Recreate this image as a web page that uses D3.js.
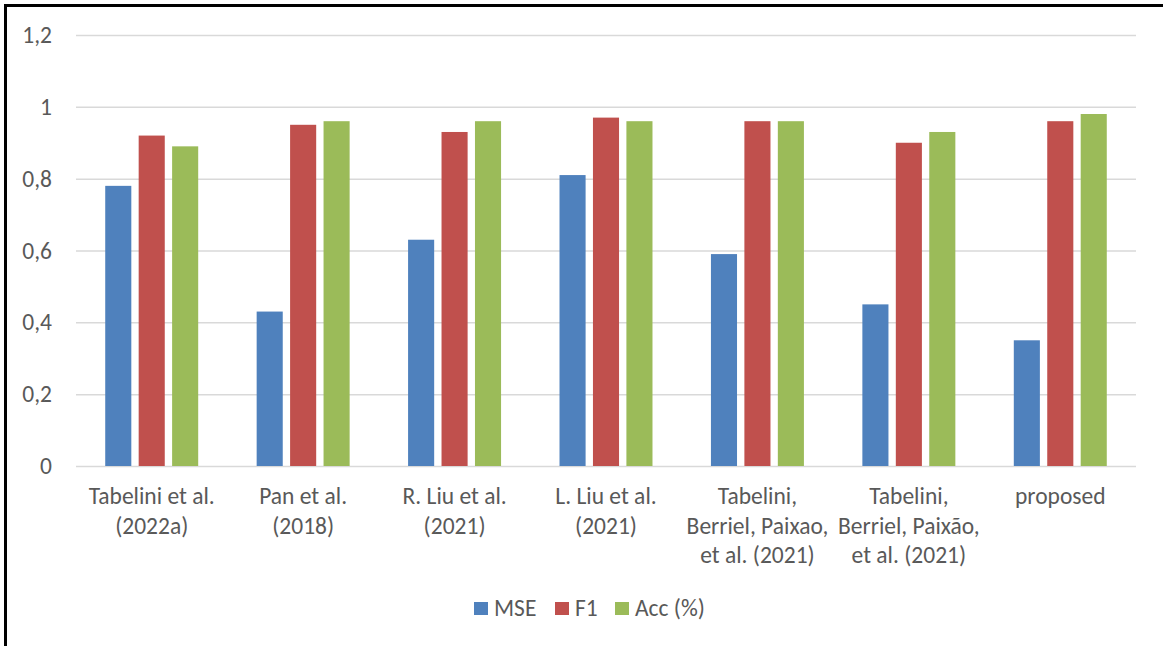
<!DOCTYPE html>
<html><head><meta charset="utf-8">
<script src="https://cdn.jsdelivr.net/npm/d3@7"></script>
<style>body{margin:0;background:#fff}svg{display:block}</style>
</head><body>
<script>
const categories = ["Tabelini et al.\n(2022a)", "Pan et al.\n(2018)", "R. Liu et al.\n(2021)", "L. Liu et al.\n(2021)", "Tabelini,\nBerriel, Paixao,\net al. (2021)", "Tabelini,\nBerriel, Paixão,\net al. (2021)", "proposed"];
const seriesNames = ["MSE", "F1", "Acc (%)"];
const mse = [0.78, 0.43, 0.63, 0.81, 0.59, 0.45, 0.35];
const f1 = [0.92, 0.95, 0.93, 0.97, 0.96, 0.90, 0.96];
const acc = [0.89, 0.96, 0.96, 0.96, 0.96, 0.93, 0.98];
const yTicks = [0, 0.2, 0.4, 0.6, 0.8, 1, 1.2];
const colors = ["#4F81BD", "#C0504D", "#9BBB59"];

(function () {
const W = 1163, H = 646;
const font = "Carlito, Calibri, Lato, sans-serif";
const fs = "23.5px";
const textColor = "#595959";
const svg = d3.select("body").append("svg").attr("width", W).attr("height", H);
svg.append("rect").attr("width", W).attr("height", H).attr("fill", "#fff");
svg.append("line").attr("x1", 5.5).attr("x2", 5.5).attr("y1", 4).attr("y2", H).attr("stroke", "#000").attr("stroke-width", 3);
svg.append("line").attr("x1", 4).attr("x2", W).attr("y1", 5.5).attr("y2", 5.5).attr("stroke", "#000").attr("stroke-width", 3);

const pLeft = 76, pRight = 1136, pTop = 35, pBottom = 466;
const y = d3.scaleLinear().domain([0, 1.2]).range([pBottom, pTop]);
const x0 = d3.scaleBand().domain(categories).range([pLeft, pRight]).paddingInner(0.386).paddingOuter(0.193);
const x1 = d3.scaleBand().domain(seriesNames).range([0, x0.bandwidth()]).paddingInner(0.22).paddingOuter(0);

const fmt = v => String(v).replace(".", ",");
const yAxis = d3.axisLeft(y).tickValues(yTicks).tickSize(-(pRight - pLeft)).tickFormat(fmt).tickPadding(24);
const gy = svg.append("g").attr("transform", `translate(${pLeft},0)`).call(yAxis);
gy.select(".domain").remove();
gy.selectAll(".tick line").attr("stroke", "#D9D9D9").attr("stroke-width", 1.5);
gy.selectAll(".tick text").attr("fill", textColor).style("font-family", font).style("font-size", fs);

const data = [mse, f1, acc];
const groups = svg.append("g").selectAll("g").data(categories).join("g")
  .attr("transform", d => `translate(${x0(d)},0)`);
groups.selectAll("rect").data((d, i) => seriesNames.map((s, j) => ({s, v: data[j][i], j})))
  .join("rect")
  .attr("x", d => x1(d.s)).attr("width", x1.bandwidth())
  .attr("y", d => y(d.v)).attr("height", d => y(0) - y(d.v))
  .attr("fill", d => colors[d.j]);

const xAxis = d3.axisBottom(x0).tickSize(0).tickPadding(0);
const gx = svg.append("g").attr("transform", `translate(0,${pBottom})`).call(xAxis);
gx.select(".domain").remove();
gx.selectAll(".tick text").each(function(d) {
  const t = d3.select(this).text(null).attr("dy", null).attr("y", null)
    .attr("fill", textColor).style("font-family", font).style("font-size", fs);
  d.split("\n").forEach((line, i) => {
    t.append("tspan").attr("x", 0).attr("y", 38 + i * 29.5).text(line);
  });
});

const legend = svg.append("g");
const legendX = [474, 555, 615];
seriesNames.forEach((s, i) => {
  legend.append("rect").attr("x", legendX[i]).attr("y", 602).attr("width", 14).attr("height", 13).attr("fill", colors[i]);
  legend.append("text").attr("x", legendX[i] + 20).attr("y", 616).attr("fill", textColor)
    .style("font-family", font).style("font-size", fs).text(s);
});
})();
</script>
</body></html>
